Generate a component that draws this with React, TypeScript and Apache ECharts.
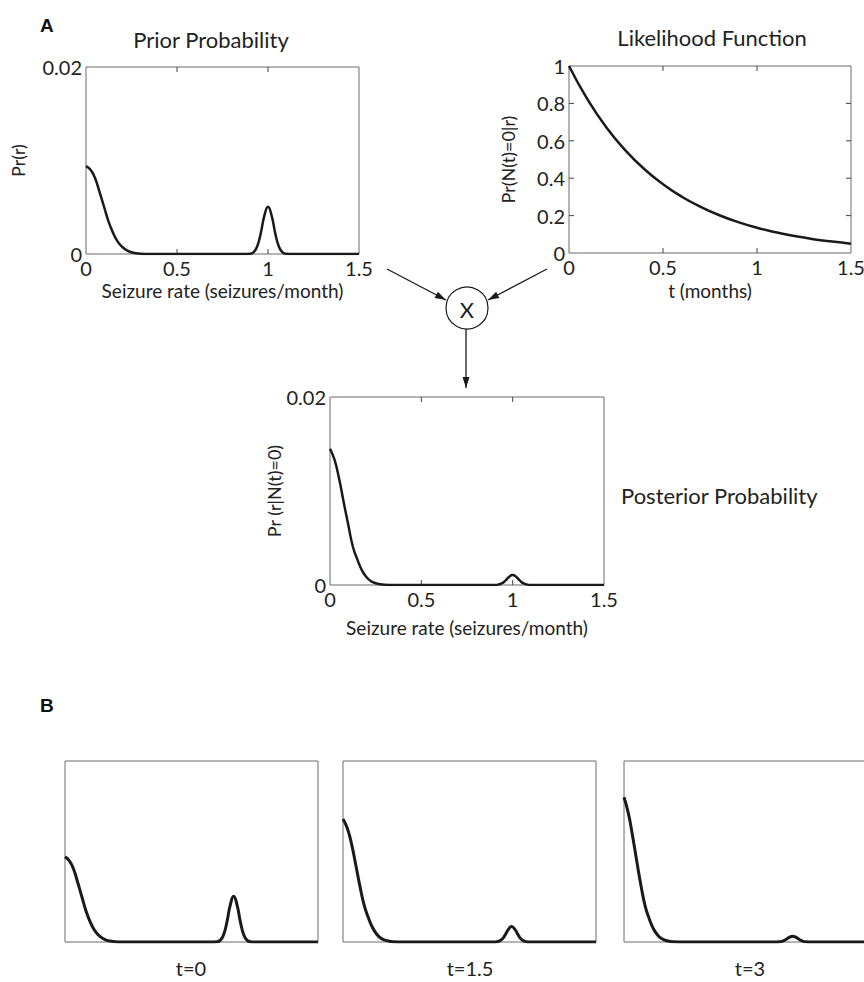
import React, { useEffect, useRef } from "react";
import * as echarts from "echarts";

// ---------- data ----------
const rates = [0, 0.025, 0.05, 0.075, 0.1, 0.125, 0.15, 0.175, 0.2, 0.225, 0.25, 0.275, 0.3, 0.35, 0.4, 0.5, 0.6, 0.7, 0.8, 0.85, 0.88, 0.9, 0.92, 0.94, 0.96, 0.98, 1.0, 1.02, 1.04, 1.06, 1.08, 1.1, 1.12, 1.15, 1.2, 1.3, 1.4, 1.5];

const priorValues = [0.0094, 0.009, 0.0081, 0.0066, 0.005, 0.0034, 0.0022, 0.0013, 0.00075, 0.00038, 0.00018, 0.00008, 0.00003, 0.000005, 0, 0, 0, 0, 0, 0, 0.00001, 0.00003, 0.00018, 0.00078, 0.0022, 0.0041, 0.00506, 0.0041, 0.0022, 0.00078, 0.00018, 0.00003, 0.00001, 0, 0, 0, 0, 0];

const posteriorValues = [0.0145, 0.0133, 0.0113, 0.0088, 0.0064, 0.0041, 0.0027, 0.00155, 0.00083, 0.0004, 0.00019, 0.00008, 0.00003, 0.000004, 0, 0, 0, 0, 0, 0, 0.000002, 0.000006, 0.00004, 0.000165, 0.00046, 0.00086, 0.00106, 0.00086, 0.00046, 0.000165, 0.00004, 0.000006, 0.000002, 0, 0, 0, 0, 0];

const posteriorT0 = priorValues;

const posteriorT15 = [0.0136, 0.0126, 0.0109, 0.0086, 0.0062, 0.0041, 0.0027, 0.0016, 0.00086, 0.00042, 0.0002, 0.000085, 0.000035, 0.000004, 0, 0, 0, 0, 0, 0, 0.000003, 0.00001, 0.00006, 0.00026, 0.00073, 0.00137, 0.0017, 0.00137, 0.00073, 0.00026, 0.00006, 0.00001, 0.000003, 0, 0, 0, 0, 0];

const posteriorT3 = [0.016, 0.0143, 0.0118, 0.009, 0.0063, 0.004, 0.00255, 0.00143, 0.00075, 0.00036, 0.00016, 0.000065, 0.000025, 0.000003, 0, 0, 0, 0, 0, 0, 0.000001, 0.000004, 0.000022, 0.0001, 0.00028, 0.00052, 0.00064, 0.00052, 0.00028, 0.0001, 0.000022, 0.000004, 0.000001, 0, 0, 0, 0, 0];

const months = [0, 0.1, 0.2, 0.3, 0.4, 0.5, 0.6, 0.7, 0.8, 0.9, 1.0, 1.1, 1.2, 1.3, 1.4, 1.5];
const likelihoodValues = [1, 0.819, 0.67, 0.549, 0.449, 0.368, 0.301, 0.247, 0.202, 0.165, 0.135, 0.111, 0.091, 0.074, 0.061, 0.05];

// interior tick marks (drawn inside the box on both opposite sides)
const rateTicks = [0.5, 1];
const densityTicks: number[] = [];
const likelihoodTicks = [0.2, 0.4, 0.6, 0.8];

const bottomLabels = ["t=0", "t=1.5", "t=3"];

// ---------- styling ----------
const FONT = "Lato, 'Open Sans', sans-serif";
const INK = "#1a1a1a";
const BOX = "#6b6b6b";
const TICK_LEN = 5;

function pairs(xs: number[], ys: number[]) {
  return xs.map((x, i) => [x, ys[i]]);
}

function arrowHead(fx: number, fy: number, tx: number, ty: number, L = 11, W = 7) {
  const dx = tx - fx;
  const dy = ty - fy;
  const len = Math.sqrt(dx * dx + dy * dy);
  const ux = dx / len;
  const uy = dy / len;
  const bx = tx - ux * L;
  const by = ty - uy * L;
  const px = -uy * (W / 2);
  const py = ux * (W / 2);
  return [
    [tx, ty],
    [bx + px, by + py],
    [bx - px, by - py],
  ];
}

function arrow(fx: number, fy: number, tx: number, ty: number) {
  return [
    {
      type: "line",
      shape: { x1: fx, y1: fy, x2: tx, y2: ty },
      style: { stroke: INK, lineWidth: 1.3 },
    },
    {
      type: "polygon",
      shape: { points: arrowHead(fx, fy, tx, ty) },
      style: { fill: INK },
    },
  ];
}

export default function App() {
  const ref = useRef<HTMLDivElement>(null);

  useEffect(() => {
    if (!ref.current) return;
    const chart = echarts.init(ref.current, undefined, { renderer: "svg" });

    const grids: any[] = [];
    const xAxes: any[] = [];
    const yAxes: any[] = [];
    const series: any[] = [];

    const labelStyle = () => ({ fontSize: 20, lineHeight: 18, color: "#222", fontFamily: FONT });
    const nameStyle = (size: number) => ({ fontSize: size, lineHeight: size - 1, color: "#222", fontFamily: FONT });
    const tickLine = (x1: number, y1: number, x2: number, y2: number) => ({
      type: "line",
      shape: { x1, y1, x2, y2 },
      style: { stroke: "#444", lineWidth: 1 },
    });

    function addBoxPanel(p: {
      left: number; top: number; width: number; height: number;
      xMax: number; xInterval: number; yMax: number; yInterval: number;
      xName: string; xNameGap: number; yName: string; yNameGap: number;
      xTicks: number[]; yTicks: number[];
      data: number[][];
    }) {
      const gi = grids.length;
      grids.push({
        left: p.left, top: p.top, width: p.width, height: p.height,
        show: true, borderColor: BOX, borderWidth: 1, backgroundColor: "#fff",
      });
      const xi = xAxes.length;
      xAxes.push({
        type: "value", gridIndex: gi, min: 0, max: p.xMax, interval: p.xInterval,
        position: "bottom",
        axisLine: { show: false }, axisTick: { show: false },
        axisLabel: { ...labelStyle(), margin: 5 },
        splitLine: { show: false },
        name: p.xName, nameLocation: "middle", nameGap: p.xNameGap,
        nameTextStyle: nameStyle(19),
      });
      const yi = yAxes.length;
      yAxes.push({
        type: "value", gridIndex: gi, min: 0, max: p.yMax, interval: p.yInterval,
        position: "left",
        axisLine: { show: false }, axisTick: { show: false },
        axisLabel: { ...labelStyle(), margin: 4 },
        splitLine: { show: false },
        name: p.yName, nameLocation: "middle", nameGap: p.yNameGap, nameRotate: 90,
        nameTextStyle: nameStyle(18),
      });
      series.push({
        type: "line", xAxisIndex: xi, yAxisIndex: yi, data: p.data,
        showSymbol: false, symbol: "none", smooth: true,
        lineStyle: { color: INK, width: 2.5 }, silent: true, z: 3,
      });
      const xMax = p.xMax;
      const yMax = p.yMax;
      // inward ticks on bottom and top edges
      series.push({
        type: "custom", xAxisIndex: xi, yAxisIndex: yi, silent: true, z: 2,
        data: p.xTicks.map((v) => [v, 0]),
        renderItem: (_params: any, api: any) => {
          const v = api.value(0);
          const b = api.coord([v, 0]);
          const t = api.coord([v, yMax]);
          return {
            type: "group",
            children: [
              tickLine(b[0], b[1], b[0], b[1] - TICK_LEN),
              tickLine(t[0], t[1], t[0], t[1] + TICK_LEN),
            ],
          };
        },
      });
      // inward ticks on left and right edges
      series.push({
        type: "custom", xAxisIndex: xi, yAxisIndex: yi, silent: true, z: 2,
        data: p.yTicks.map((v) => [0, v]),
        renderItem: (_params: any, api: any) => {
          const v = api.value(1);
          const l = api.coord([0, v]);
          const r = api.coord([xMax, v]);
          return {
            type: "group",
            children: [
              tickLine(l[0], l[1], l[0] + TICK_LEN, l[1]),
              tickLine(r[0], r[1], r[0] - TICK_LEN, r[1]),
            ],
          };
        },
      });
    }

    function addPlainPanel(left: number, data: number[][]) {
      const gi = grids.length;
      grids.push({
        left, top: 761, width: 253, height: 181,
        show: true, borderColor: BOX, borderWidth: 1, backgroundColor: "#fff",
      });
      const xi = xAxes.length;
      xAxes.push({ type: "value", gridIndex: gi, min: 0, max: 1.5, show: false });
      const yi = yAxes.length;
      yAxes.push({ type: "value", gridIndex: gi, min: 0, max: 0.02, show: false });
      series.push({
        type: "line", xAxisIndex: xi, yAxisIndex: yi, data,
        showSymbol: false, symbol: "none", smooth: true,
        lineStyle: { color: INK, width: 3 }, silent: true,
      });
    }

    addBoxPanel({
      left: 86, top: 67, width: 273, height: 187,
      xMax: 1.5, xInterval: 0.5, yMax: 0.02, yInterval: 0.02,
      xName: "Seizure rate (seizures/month)", xNameGap: 27,
      yName: "Pr(r)", yNameGap: 60,
      xTicks: rateTicks, yTicks: densityTicks,
      data: pairs(rates, priorValues),
    });
    addBoxPanel({
      left: 569, top: 66, width: 282, height: 187,
      xMax: 1.5, xInterval: 0.5, yMax: 1, yInterval: 0.2,
      xName: "t (months)", xNameGap: 28,
      yName: "Pr(N(t)=0|r)", yNameGap: 53,
      xTicks: rateTicks, yTicks: likelihoodTicks,
      data: pairs(months, likelihoodValues),
    });
    addBoxPanel({
      left: 330, top: 397, width: 274, height: 188,
      xMax: 1.5, xInterval: 0.5, yMax: 0.02, yInterval: 0.02,
      xName: "Seizure rate (seizures/month)", xNameGap: 33,
      yName: "Pr (r|N(t)=0)", yNameGap: 43,
      xTicks: rateTicks, yTicks: densityTicks,
      data: pairs(rates, posteriorValues),
    });
    addPlainPanel(65, pairs(rates, posteriorT0));
    addPlainPanel(343, pairs(rates, posteriorT15));
    addPlainPanel(624, pairs(rates, posteriorT3));

    const textEl = (text: string, x: number, y: number, size: number, opts: any = {}) => ({
      type: "text", x, y, silent: true,
      style: {
        text, fill: opts.fill || "#222",
        font: `${opts.weight || "normal"} ${size}px ${opts.family || FONT}`,
        textAlign: opts.align || "center", textVerticalAlign: "middle",
      },
    });

    const graphics: any[] = [
      textEl("A", 40, 25, 19, { weight: "bold", family: "'Liberation Sans', Arial, sans-serif", align: "left", fill: "#111" }),
      textEl("B", 40, 705, 19, { weight: "bold", family: "'Liberation Sans', Arial, sans-serif", align: "left", fill: "#111" }),
      textEl("Prior Probability", 211, 39, 22),
      textEl("Likelihood Function", 712, 37, 22),
      textEl("Posterior Probability", 621, 495, 22, { align: "left" }),
      textEl(bottomLabels[0], 191, 968, 20),
      textEl(bottomLabels[1], 470, 968, 20),
      textEl(bottomLabels[2], 750, 968, 20),
      ...arrow(387, 269, 446, 300),
      ...arrow(547, 269, 488, 300),
      ...arrow(466, 329, 466, 388),
      {
        type: "circle", shape: { cx: 467, cy: 308, r: 21 },
        style: { fill: "#fff", stroke: INK, lineWidth: 1.2 },
      },
      textEl("X", 467, 309, 22),
    ];

    chart.setOption({
      animation: false,
      backgroundColor: "#fff",
      grid: grids,
      xAxis: xAxes,
      yAxis: yAxes,
      series,
      graphic: graphics,
    });

    return () => chart.dispose();
  }, []);

  // the canvas is a little wider than the window so that the last bottom panel
  // runs off the right edge, as it does in the reference
  return (
    <div
      style={{ position: "absolute", left: 0, top: 0, width: 864, height: 982, overflow: "hidden", background: "#fff" }}
    >
      <div ref={ref} style={{ width: 900, height: 982 }} />
    </div>
  );
}
